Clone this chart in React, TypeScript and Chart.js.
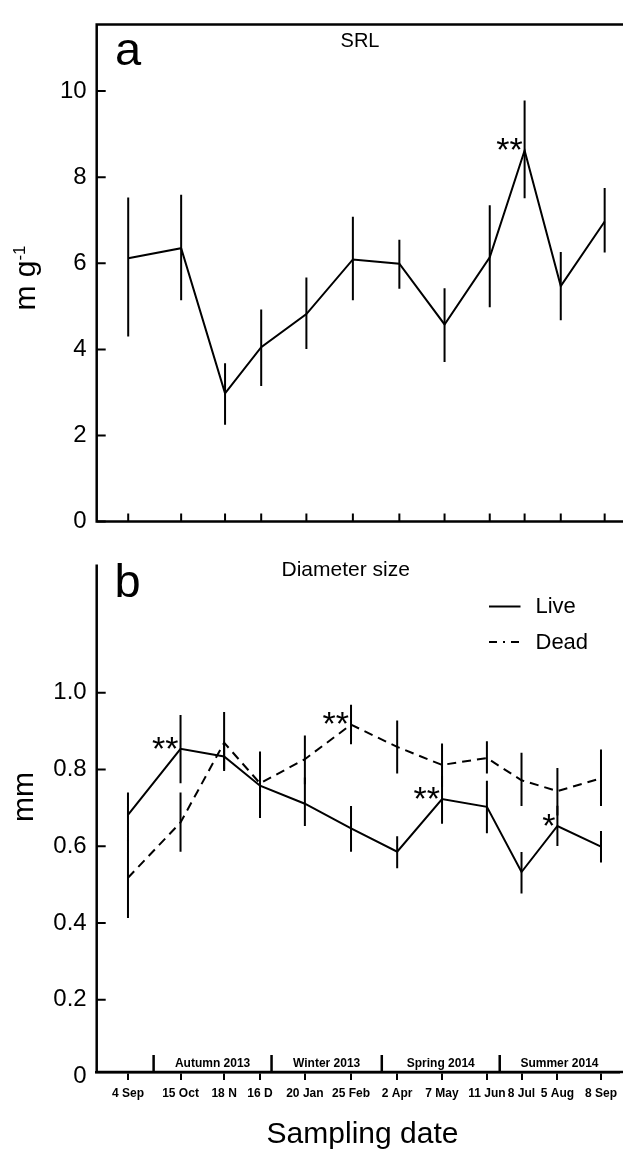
import React, { useEffect, useRef } from 'react';
import { Chart, registerables } from 'chart.js';

Chart.register(...registerables);

// ---- data ----
const sampleDays = [0, 41, 75, 103, 138, 174, 210, 245, 280, 307, 335, 369]; // days after 4 Sep 2013
const sampleLabels = ['4 Sep', '15 Oct', '18 N', '16 D', '20 Jan', '25 Feb', '2 Apr', '7 May', '11 Jun', '8 Jul', '5 Aug', '8 Sep'];

const srlMean = [6.12, 6.35, 2.98, 4.05, 4.82, 6.09, 5.99, 4.58, 6.14, 8.62, 5.47, 6.97];
const srlUpper = [7.53, 7.59, 3.68, 4.93, 5.67, 7.08, 6.55, 5.42, 7.35, 9.78, 6.26, 7.75];
const srlLower = [4.3, 5.14, 2.25, 3.15, 4.01, 5.14, 5.41, 3.71, 4.98, 7.51, 4.68, 6.25];
const srlSig = ['', '', '', '', '', '', '', '', '', '**', '', ''];

const liveMean = [0.682, 0.854, 0.834, 0.758, 0.711, 0.647, 0.586, 0.723, 0.703, 0.533, 0.653, 0.599];
const liveUpper = [0.74, 0.942, 0.87, 0.847, 0.779, 0.705, 0.626, 0.783, 0.771, 0.585, 0.706, 0.64];
const liveLower = [0.614, 0.764, 0.8, 0.674, 0.653, 0.586, 0.543, 0.659, 0.634, 0.477, 0.601, 0.558];
const liveSig = ['', '**', '', '', '', '', '', '**', '', '', '*', ''];

const deadMean = [0.518, 0.662, 0.87, 0.764, 0.827, 0.917, 0.859, 0.812, 0.83, 0.772, 0.744, 0.777];
const deadUpper = [0.618, 0.74, 0.95, 0.786, 0.889, 0.969, 0.928, 0.868, 0.874, 0.844, 0.804, 0.852];
const deadLower = [0.413, 0.586, 0.796, 0.732, 0.762, 0.866, 0.79, 0.754, 0.79, 0.705, 0.68, 0.705];
const deadSig = ['', '', '', '', '', '**', '', '', '', '', '', ''];

const seasonBounds = [20, 112, 198, 290];
const seasonLabels = ['Autumn 2013', 'Winter 2013', 'Spring 2014', 'Summer 2014'];

const srlTicks = [0, 2, 4, 6, 8, 10];
const diamTicks = [0, 0.2, 0.4, 0.6, 0.8, 1.0];

// ---- layout constants ----
const FONT = '"Liberation Sans", Arial, Helvetica, sans-serif';
const X_MIN = -24.4;
const X_MAX = 383.2;
const AXIS_W = 96.7;

function drawFrameAndTicks(chart: any, yTicks: number[], innerXTicks: boolean, drawTop: boolean) {
  const { ctx, chartArea } = chart;
  const xs = chart.scales.x;
  const ys = chart.scales.y;
  ctx.save();
  ctx.strokeStyle = '#000';
  ctx.lineCap = 'butt';
  ctx.lineWidth = 2.5;
  ctx.beginPath();
  ctx.moveTo(chartArea.left, chartArea.top);
  ctx.lineTo(chartArea.left, chartArea.bottom);
  if (drawTop) {
    ctx.moveTo(chartArea.left - 1.25, chartArea.top);
    ctx.lineTo(chart.width, chartArea.top);
  }
  ctx.moveTo(chartArea.left - 1.25, chartArea.bottom);
  ctx.lineTo(chart.width, chartArea.bottom);
  ctx.stroke();
  ctx.lineWidth = 2;
  ctx.beginPath();
  yTicks.forEach((v) => {
    if (v < ys.min) return;
    const y = ys.getPixelForValue(v);
    ctx.moveTo(chartArea.left, y);
    ctx.lineTo(chartArea.left + 9, y);
  });
  if (innerXTicks) {
    sampleDays.forEach((d) => {
      const x = xs.getPixelForValue(d);
      ctx.moveTo(x, chartArea.bottom);
      ctx.lineTo(x, chartArea.bottom - 8);
    });
  }
  ctx.stroke();
  ctx.restore();
}

function drawErrorBars(chart: any, lower: number[], upper: number[]) {
  const { ctx } = chart;
  const xs = chart.scales.x;
  const ys = chart.scales.y;
  ctx.save();
  ctx.strokeStyle = '#000';
  ctx.lineWidth = 2;
  ctx.beginPath();
  sampleDays.forEach((d, i) => {
    const x = xs.getPixelForValue(d);
    ctx.moveTo(x, ys.getPixelForValue(lower[i]));
    ctx.lineTo(x, ys.getPixelForValue(upper[i]));
  });
  ctx.stroke();
  ctx.restore();
}

function drawSig(chart: any, means: number[], sig: string[]) {
  const { ctx } = chart;
  const xs = chart.scales.x;
  const ys = chart.scales.y;
  const fs = 34;
  ctx.save();
  ctx.fillStyle = '#000';
  ctx.font = `${fs}px ${FONT}`;
  ctx.textAlign = 'right';
  ctx.textBaseline = 'alphabetic';
  sig.forEach((s, i) => {
    if (!s) return;
    const x = xs.getPixelForValue(sampleDays[i]) - 2;
    const y = ys.getPixelForValue(means[i]) - 9;
    ctx.fillText(s, x, y + 0.58 * fs);
  });
  ctx.restore();
}

function drawText(ctx: any, text: string, x: number, y: number, size: number, align: string, weight = 'normal') {
  ctx.save();
  ctx.fillStyle = '#000';
  ctx.font = `${weight} ${size}px ${FONT}`;
  ctx.textAlign = align;
  ctx.textBaseline = 'alphabetic';
  ctx.fillText(text, x, y);
  ctx.restore();
}

const topPlugin = {
  id: 'topDecor',
  afterDatasetsDraw(chart: any) {
    const { ctx } = chart;
    drawFrameAndTicks(chart, srlTicks, true, true);
    drawErrorBars(chart, srlLower, srlUpper);
    drawSig(chart, srlMean, srlSig);
    drawText(ctx, 'a', 115, 65, 47, 'left');
    drawText(ctx, 'SRL', 360, 46.5, 20, 'center');
    // y title with superscript
    ctx.save();
    ctx.translate(35, 278);
    ctx.rotate(-Math.PI / 2);
    ctx.fillStyle = '#000';
    ctx.textBaseline = 'alphabetic';
    ctx.textAlign = 'left';
    ctx.font = `30px ${FONT}`;
    const main = 'm g';
    const wMain = ctx.measureText(main).width;
    ctx.font = `17px ${FONT}`;
    const sup = '-1';
    const wSup = ctx.measureText(sup).width;
    const start = -(wMain + wSup) / 2;
    ctx.font = `30px ${FONT}`;
    ctx.fillText(main, start, 0);
    ctx.font = `17px ${FONT}`;
    ctx.fillText(sup, start + wMain, -10);
    ctx.restore();
  },
};

const bottomPlugin = {
  id: 'bottomDecor',
  afterDatasetsDraw(chart: any) {
    const { ctx, chartArea } = chart;
    const xs = chart.scales.x;
    drawFrameAndTicks(chart, diamTicks, false, false);
    // season separators
    ctx.save();
    ctx.strokeStyle = '#000';
    ctx.lineWidth = 2.5;
    ctx.beginPath();
    seasonBounds.forEach((d) => {
      const x = xs.getPixelForValue(d);
      ctx.moveTo(x, chartArea.bottom);
      ctx.lineTo(x, chartArea.bottom - 17);
    });
    ctx.stroke();
    ctx.restore();
    const edges = [...seasonBounds, xs.max];
    seasonLabels.forEach((lab, i) => {
      const cx = (xs.getPixelForValue(edges[i]) + xs.getPixelForValue(edges[i + 1])) / 2;
      drawText(ctx, lab, cx, chartArea.bottom - 5.5, 12, 'center', 'bold');
    });
    drawErrorBars(chart, deadLower, deadUpper);
    drawErrorBars(chart, liveLower, liveUpper);
    drawSig(chart, liveMean, liveSig);
    drawSig(chart, deadMean, deadSig);
    drawText(ctx, 'b', 114.5, 57, 47, 'left');
    drawText(ctx, 'Diameter size', 281.5, 36, 21, 'left');
    // legend
    ctx.save();
    ctx.strokeStyle = '#000';
    ctx.lineWidth = 2;
    ctx.beginPath();
    ctx.moveTo(489, 66.5);
    ctx.lineTo(520.5, 66.5);
    ctx.stroke();
    ctx.setLineDash([8, 6, 2, 6]);
    ctx.beginPath();
    ctx.moveTo(489, 102);
    ctx.lineTo(523, 102);
    ctx.stroke();
    ctx.restore();
    drawText(ctx, 'Live', 535.5, 73.3, 22, 'left');
    drawText(ctx, 'Dead', 535.5, 109, 22, 'left');
    // y title
    ctx.save();
    ctx.translate(33, 257);
    ctx.rotate(-Math.PI / 2);
    drawText(ctx, 'mm', 0, 0, 30, 'center');
    ctx.restore();
    // x title
    drawText(ctx, 'Sampling date', 362.5, 603, 30, 'center');
  },
};

function lineDataset(means: number[], dash: number[]) {
  return {
    data: sampleDays.map((d, i) => ({ x: d, y: means[i] })),
    borderColor: '#000',
    borderWidth: 2,
    borderDash: dash,
    pointRadius: 0,
    tension: 0,
    fill: false,
  };
}

function yTickCfg(size: number) {
  return { color: '#000', font: { family: FONT, size }, padding: 10 };
}

export default function App() {
  const topRef = useRef<HTMLCanvasElement>(null);
  const botRef = useRef<HTMLCanvasElement>(null);

  useEffect(() => {
    const top = new Chart(topRef.current as HTMLCanvasElement, {
      type: 'line',
      data: { datasets: [lineDataset(srlMean, []) as any] },
      options: {
        animation: false,
        responsive: true,
        maintainAspectRatio: false,
        events: [],
        layout: { padding: { left: 0, right: 0, top: 10, bottom: 6 } },
        plugins: { legend: { display: false }, tooltip: { enabled: false } },
        scales: {
          x: { type: 'linear', min: X_MIN, max: X_MAX, display: false },
          y: {
            type: 'linear',
            min: 0,
            max: 11.55,
            afterBuildTicks: (s: any) => {
              s.ticks = srlTicks.map((v) => ({ value: v }));
            },
            afterFit: (s: any) => {
              s.width = AXIS_W;
            },
            grid: { display: false, drawTicks: false },
            border: { display: false },
            ticks: { ...yTickCfg(24), callback: (v: any) => String(v) },
          },
        },
      } as any,
      plugins: [topPlugin],
    });

    const bottom = new Chart(botRef.current as HTMLCanvasElement, {
      type: 'line',
      data: {
        datasets: [lineDataset(liveMean, []) as any, lineDataset(deadMean, [9, 6]) as any],
      },
      options: {
        animation: false,
        responsive: true,
        maintainAspectRatio: false,
        events: [],
        layout: { padding: { left: 0, right: 0, top: 0, bottom: 0 } },
        plugins: { legend: { display: false }, tooltip: { enabled: false } },
        scales: {
          x: {
            type: 'linear',
            min: X_MIN,
            max: X_MAX,
            afterBuildTicks: (s: any) => {
              s.ticks = sampleDays.map((v) => ({ value: v }));
            },
            afterFit: (s: any) => {
              s.height = 77;
            },
            grid: {
              display: true,
              drawOnChartArea: false,
              drawTicks: true,
              tickLength: 8,
              lineWidth: 2,
              color: '#000',
            },
            border: { display: true, width: 2.5, color: '#000' },
            ticks: {
              color: '#000',
              font: { family: FONT, size: 12, weight: 'bold' },
              padding: 6,
              autoSkip: false,
              maxRotation: 0,
              minRotation: 0,
              callback: (_v: any, i: number) => sampleLabels[i],
            },
          },
          y: {
            type: 'linear',
            min: 0.012,
            max: 1.3345,
            afterBuildTicks: (s: any) => {
              s.ticks = diamTicks.map((v) => ({ value: v }));
            },
            afterFit: (s: any) => {
              s.width = AXIS_W;
            },
            grid: { display: false, drawTicks: false },
            border: { display: false },
            ticks: {
              ...yTickCfg(24),
              callback: (v: any) => (v === 0 ? '0' : Number(v).toFixed(1)),
            },
          },
        },
      } as any,
      plugins: [bottomPlugin],
    });

    return () => {
      top.destroy();
      bottom.destroy();
    };
  }, []);

  return (
    <div style={{ position: 'absolute', left: 0, top: 0, width: 623, height: 1149, background: '#fff' }}>
      <div style={{ position: 'absolute', left: 0, top: 0, width: 623, height: 546 }}>
        <canvas ref={topRef} />
      </div>
      <div style={{ position: 'absolute', left: 0, top: 540, width: 623, height: 609 }}>
        <canvas ref={botRef} />
      </div>
    </div>
  );
}
